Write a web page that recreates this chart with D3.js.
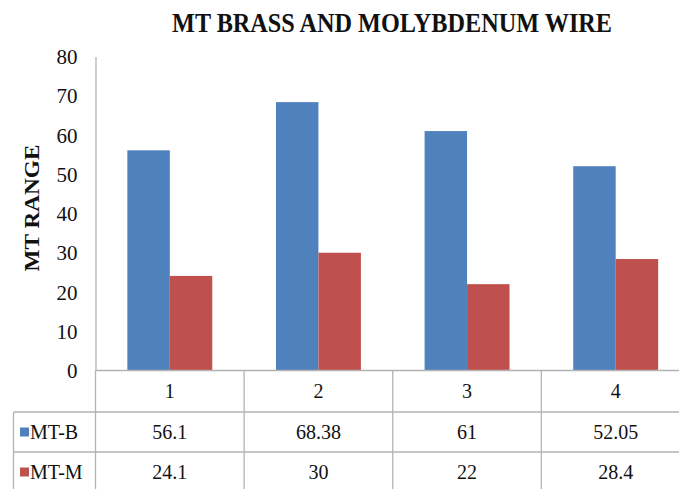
<!DOCTYPE html>
<html><head><meta charset="utf-8">
<script src="https://cdn.jsdelivr.net/npm/d3@7"></script>
<style>body{margin:0;background:#fff}svg{display:block}
text{font-family:"Liberation Serif","Times New Roman",serif;}
</style>
</head><body>
<script>
const categories = ["1","2","3","4"];
const seriesNames = ["MT-B","MT-M"];
const mtB = [56.1, 68.38, 61, 52.05];
const mtM = [24.1, 30, 22, 28.4];
const mtBLabels = ["56.1","68.38","61","52.05"];
const mtMLabels = ["24.1","30","22","28.4"];
const yTicks = [0,10,20,30,40,50,60,70,80];
const colors = {"MT-B":"#4F81BD","MT-M":"#C0504D"};

const W = 679, H = 489;
const svg = d3.select("body").append("svg").attr("width",W).attr("height",H);
const grid = "#b3b3b3";
const ink = "#111";

const y = d3.scaleLinear().domain([0,80]).range([370.5,56.5]);
const x = d3.scaleBand().domain(categories).range([95.5,690]).paddingInner(0).paddingOuter(0);
const x1 = d3.scaleBand().domain(seriesNames).range([0,x.bandwidth()]).paddingInner(0).paddingOuter(0.75);

// title
svg.append("text").attr("x",392).attr("y",32).attr("text-anchor","middle")
  .attr("font-weight","bold").attr("font-size",28)
  .attr("textLength",440).attr("lengthAdjust","spacingAndGlyphs")
  .attr("fill",ink).text("MT BRASS AND MOLYBDENUM WIRE");

// y label
svg.append("text").attr("transform","translate(39,208) rotate(-90)").attr("text-anchor","middle")
  .attr("font-weight","bold").attr("font-size",21)
  .attr("textLength",127).attr("lengthAdjust","spacingAndGlyphs")
  .attr("fill",ink).text("MT RANGE");

// y axis
const yAxis = d3.axisLeft(y).tickValues(yTicks).tickSize(0).tickPadding(18);
const ga = svg.append("g").attr("transform","translate(95.5,0)").call(yAxis);
ga.attr("font-family",null);
ga.select(".domain").attr("stroke",grid).attr("stroke-width",1.3);
ga.selectAll("text").attr("font-size",21).attr("fill",ink).attr("dy","0.34em");

// bars
const rows = [ {name:"MT-B", vals:mtB, labels:mtBLabels}, {name:"MT-M", vals:mtM, labels:mtMLabels} ];
rows.forEach(r => {
  svg.append("g").selectAll("rect").data(r.vals).join("rect")
    .attr("x",(d,i)=>x(categories[i])+x1(r.name))
    .attr("width",x1.bandwidth())
    .attr("y",d=>y(d))
    .attr("height",d=>y(0)-y(d))
    .attr("fill",colors[r.name]);
});

// data table
const tableLeft = 13.5, right = 690;
const rowEdges = [370.5, 412, 452, 492];
const lines = svg.append("g").attr("stroke",grid).attr("stroke-width",1.3);
lines.append("line").attr("x1",95.5).attr("x2",right).attr("y1",rowEdges[0]).attr("y2",rowEdges[0]);
[1,2].forEach(k=>lines.append("line").attr("x1",tableLeft).attr("x2",right).attr("y1",rowEdges[k]).attr("y2",rowEdges[k]));
lines.append("line").attr("x1",tableLeft).attr("x2",tableLeft).attr("y1",rowEdges[1]).attr("y2",H);
categories.forEach(c=>{
  lines.append("line").attr("x1",x(c)).attr("x2",x(c)).attr("y1",rowEdges[0]).attr("y2",H);
});

// category labels
svg.append("g").selectAll("text").data(categories).join("text")
  .attr("x",d=>x(d)+x.bandwidth()/2).attr("y",(rowEdges[0]+rowEdges[1])/2+7)
  .attr("text-anchor","middle").attr("font-size",20).attr("fill",ink)
  .text(d=>d);

rows.forEach((r,ri)=>{
  const cy = (rowEdges[ri+1]+rowEdges[ri+2])/2;
  svg.append("rect").attr("x",20).attr("y",cy-4.5).attr("width",9).attr("height",9).attr("fill",colors[r.name]);
  svg.append("text").attr("x",30).attr("y",cy+7).attr("font-size",20).attr("fill",ink).text(r.name);
  svg.append("g").selectAll("text").data(r.labels).join("text")
    .attr("x",(d,i)=>x(categories[i])+x.bandwidth()/2).attr("y",cy+7)
    .attr("text-anchor","middle").attr("font-size",20).attr("fill",ink)
    .text(d=>d);
});
</script>
</body></html>
